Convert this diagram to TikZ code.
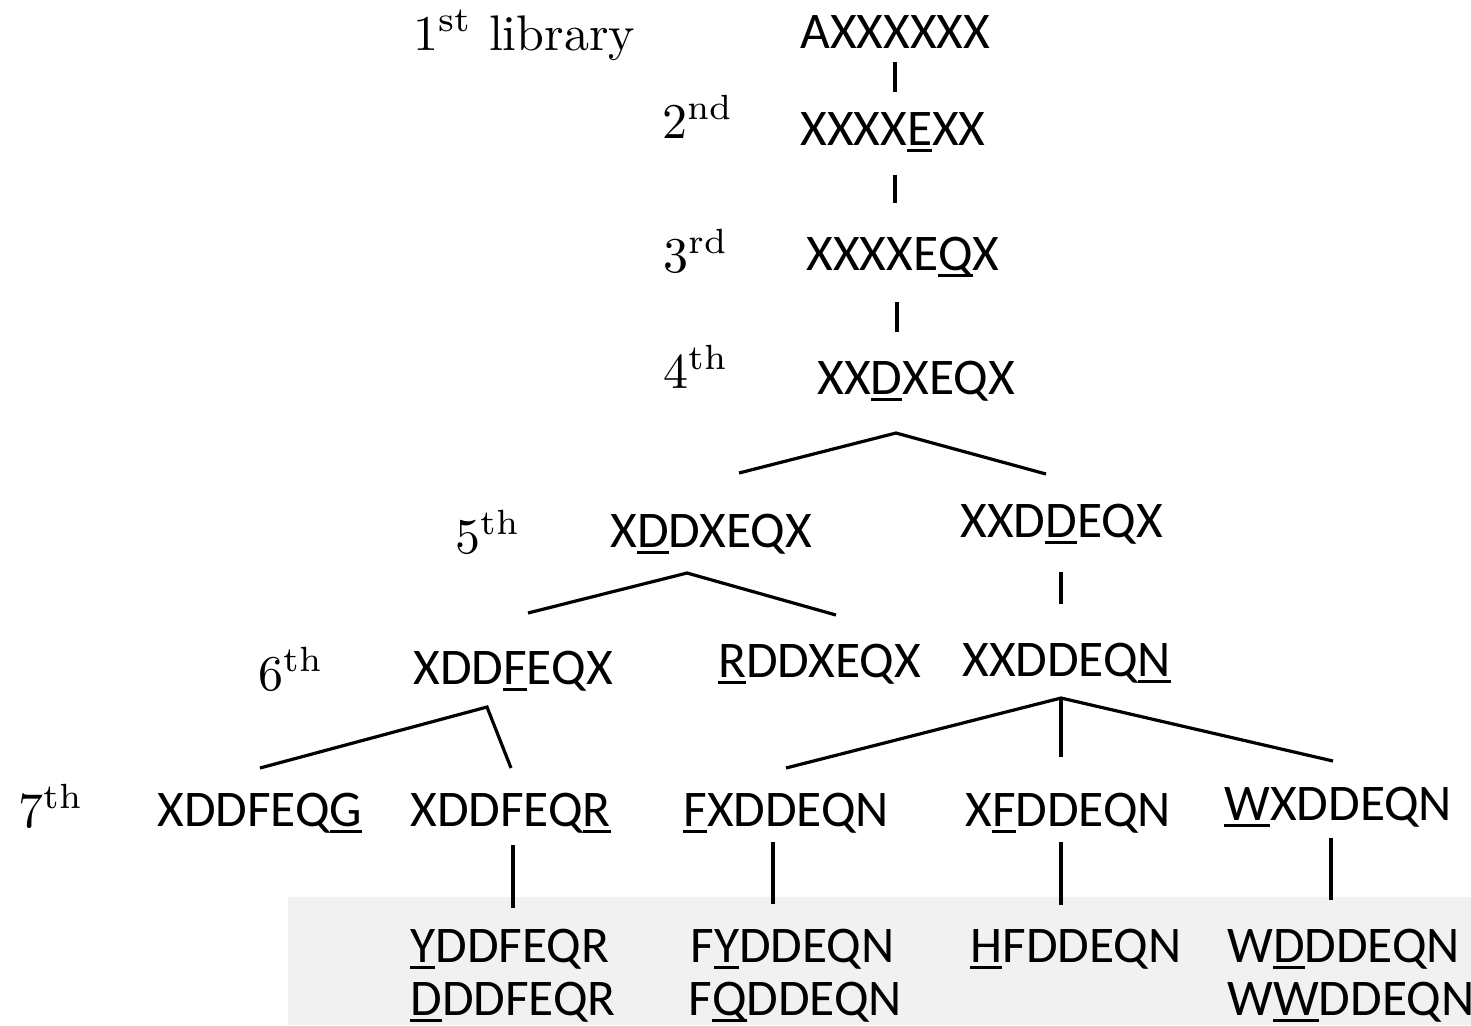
\documentclass[tikz,border=0pt]{standalone}
\usepackage{fontspec}
\usepackage{graphicx}
\newfontfamily\seqfont{Carlito}
\definecolor{boxgrey}{HTML}{F1F1F1}
% underline a single residue
\newcommand\mk[1]{\setbox0\hbox{#1}\rlap{\rule[-0.13em]{\wd0}{0.06em}}\box0}
% library label: 10pt roman magnified
\newcommand\libtxt[1]{\scalebox{2.5}{\fontsize{10}{12}\selectfont #1}}
\tikzset{
  seq/.style={anchor=base west, inner sep=0pt, font=\seqfont\fontsize{25.7}{30}\selectfont},
  lib/.style={anchor=base west, inner sep=0pt},
  link/.style={line width=1.6pt, line cap=butt},
}
\begin{document}
\begin{tikzpicture}[x=0.5pt, y=-0.5pt]
\useasboundingbox (0,0) rectangle (1471,1025);
% shaded band behind the last generation
\fill[boxgrey] (288,897) rectangle (1471,1025);

% library labels
\node[lib] (l1) at (413,50) {\libtxt{1\textsuperscript{st} library}};
\node[lib] (l2) at (662,138) {\libtxt{2\textsuperscript{nd}}};
\node[lib] (l3) at (663,272) {\libtxt{3\textsuperscript{rd}}};
\node[lib] (l4) at (663,388) {\libtxt{4\textsuperscript{th}}};
\node[lib] (l5) at (455,553) {\libtxt{5\textsuperscript{th}}};
\node[lib] (l6) at (258,690) {\libtxt{6\textsuperscript{th}}};
\node[lib] (l7) at (18,827) {\libtxt{7\textsuperscript{th}}};

% sequences
\node[seq] (s1) at (800,48) {AXXXXXX};
\node[seq] (s2) at (800,145) {XXXX\mk{E}XX};
\node[seq] (s3) at (806,270) {XXXXE\mk{Q}X};
\node[seq] (s4) at (817,394) {XX\mk{D}XEQX};
\node[seq] (s5a) at (610,547) {X\mk{D}DXEQX};
\node[seq] (s5b) at (960,537) {XXD\mk{D}EQX};
\node[seq] (s6a) at (413,684) {XDD\mk{F}EQX};
\node[seq] (s6b) at (718,677) {\mk{R}DDXEQX};
\node[seq] (s6c) at (962,676) {XXDDEQ\mk{N}};
\node[seq] (s7a) at (157,826) {XDDFEQ\mk{G}};
\node[seq] (s7b) at (410,826) {XDDFEQ\mk{R}};
\node[seq] (s7c) at (683,826) {\mk{F}XDDEQN};
\node[seq] (s7d) at (965,826) {X\mk{F}DDEQN};
\node[seq] (s7e) at (1224,820) {\mk{W}XDDEQN};
\node[seq] (s8a) at (410,962) {\mk{Y}DDFEQR};
\node[seq] (s8b) at (410,1015) {\mk{D}DDFEQR};
\node[seq] (s8c) at (690,962) {F\mk{Y}DDEQN};
\node[seq] (s8d) at (688,1015) {F\mk{Q}DDEQN};
\node[seq] (s8e) at (970,962) {\mk{H}FDDEQN};
\node[seq] (s8f) at (1227,962) {W\mk{D}DDEQN};
\node[seq] (s8g) at (1227,1015) {W\mk{W}DDEQN};

% connector end points
\coordinate (c1t) at (895,62);   \coordinate (c1b) at (895,92);
\coordinate (c2t) at (895,175);  \coordinate (c2b) at (895,203);
\coordinate (c3t) at (897,302);  \coordinate (c3b) at (897,332);
\coordinate (c4) at (896,433);   \coordinate (c4l) at (739,473);  \coordinate (c4r) at (1046,474);
\coordinate (c5a) at (687,573);  \coordinate (c5al) at (528,613); \coordinate (c5ar) at (836,615);
\coordinate (c5bt) at (1061,572); \coordinate (c5bb) at (1061,604);
\coordinate (c6a) at (487,707);  \coordinate (c6al) at (260,768); \coordinate (c6ar) at (511,768);
\coordinate (c6c) at (1061,698); \coordinate (c6cl) at (786,768); \coordinate (c6cm) at (1061,757); \coordinate (c6cr) at (1333,761);
\coordinate (c7bt) at (513,845); \coordinate (c7bb) at (513,908);
\coordinate (c7ct) at (773,842); \coordinate (c7cb) at (773,904);
\coordinate (c7dt) at (1061,842); \coordinate (c7db) at (1061,905);
\coordinate (c7et) at (1331,838); \coordinate (c7eb) at (1331,900);

% connectors
\draw[link] (c1t) -- (c1b);
\draw[link] (c2t) -- (c2b);
\draw[link] (c3t) -- (c3b);
\draw[link] (c4l) -- (c4) -- (c4r);
\draw[link] (c5al) -- (c5a) -- (c5ar);
\draw[link] (c5bt) -- (c5bb);
\draw[link] (c6al) -- (c6a) -- (c6ar);
\draw[link] (c6cl) -- (c6c) -- (c6cr);
\draw[link] (c6c) -- (c6cm);
\draw[link] (c7bt) -- (c7bb);
\draw[link] (c7ct) -- (c7cb);
\draw[link] (c7dt) -- (c7db);
\draw[link] (c7et) -- (c7eb);
\end{tikzpicture}
\end{document}
